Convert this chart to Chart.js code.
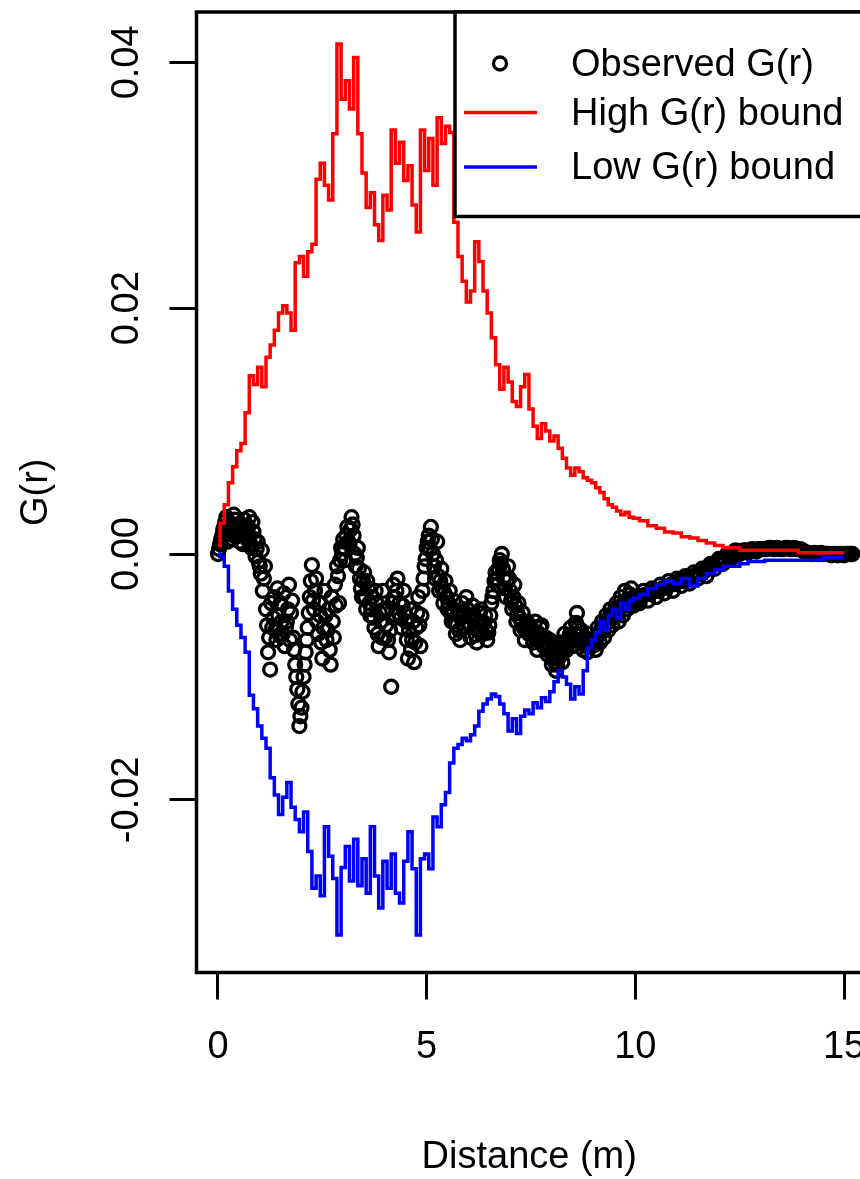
<!DOCTYPE html>
<html>
<head>
<meta charset="utf-8">
<script src="https://cdn.jsdelivr.net/npm/chart.js@4.4.1/dist/chart.umd.min.js"></script>
<style>
  html, body { margin: 0; padding: 0; background: #fff; overflow: hidden; }
  #grafico { display: block; }
</style>
</head>
<body>
<canvas id="grafico" width="900" height="1179"></canvas>
<script>
// Distancias (m) de las bandas
const distBandas = [
  0, 0.1, 0.2, 0.3, 0.4, 0.5, 0.6, 0.7, 0.8, 0.9,
  1, 1.1, 1.2, 1.3, 1.4, 1.5, 1.6, 1.7, 1.8, 1.9,
  2, 2.1, 2.2, 2.3, 2.4, 2.5, 2.6, 2.7, 2.8, 2.9,
  3, 3.1, 3.2, 3.3, 3.4, 3.5, 3.6, 3.7, 3.8, 3.9,
  4, 4.1, 4.2, 4.3, 4.4, 4.5, 4.6, 4.7, 4.8, 4.9,
  5, 5.1, 5.2, 5.3, 5.4, 5.5, 5.6, 5.7, 5.8, 5.9,
  6, 6.1, 6.2, 6.3, 6.4, 6.5, 6.6, 6.7, 6.8, 6.9,
  7, 7.1, 7.2, 7.3, 7.4, 7.5, 7.6, 7.7, 7.8, 7.9,
  8, 8.1, 8.2, 8.3, 8.4, 8.5, 8.6, 8.7, 8.8, 8.9,
  9, 9.1, 9.2, 9.3, 9.4, 9.5, 9.6, 9.7, 9.8, 9.9,
  10, 10.2, 10.4, 10.6, 10.8, 11, 11.2, 11.4, 11.6, 11.8,
  12, 12.2, 12.4, 12.6, 12.8, 13, 13.2, 13.4, 13.6, 13.8,
  14, 14.2, 14.4, 14.6, 14.8, 15
];

// Banda alta (roja)
const altaG = [
  0.0007, 0.0025, 0.0040, 0.0058, 0.0071, 0.0084, 0.0090, 0.0115, 0.0145, 0.0138,
  0.0152, 0.0136, 0.0160, 0.0170, 0.0182, 0.0196, 0.0202, 0.0196, 0.0182, 0.0237,
  0.0242, 0.0226, 0.0246, 0.0252, 0.0305, 0.0318, 0.0300, 0.0288, 0.0342, 0.0415,
  0.0370, 0.0385, 0.0362, 0.0404, 0.0342, 0.0310, 0.0282, 0.0294, 0.0268, 0.0255,
  0.0292, 0.0280, 0.0345, 0.0318, 0.0335, 0.0304, 0.0316, 0.0284, 0.0262, 0.0345,
  0.0312, 0.0338, 0.0300, 0.0355, 0.0334, 0.0348, 0.0343, 0.0270, 0.0242, 0.0222,
  0.0205, 0.0214, 0.0254, 0.0238, 0.0214, 0.0196, 0.0176, 0.0154, 0.0134, 0.0152,
  0.0140, 0.0124, 0.0120, 0.0136, 0.0146, 0.0118, 0.0104, 0.0094, 0.0106, 0.0100,
  0.0092, 0.0096, 0.0086, 0.0078, 0.0070, 0.0064, 0.0070, 0.0067, 0.0062, 0.0060,
  0.0058, 0.0054, 0.0050, 0.0045, 0.0040, 0.0038, 0.0035, 0.0032, 0.0034, 0.0030,
  0.0029, 0.0027, 0.0023, 0.0021, 0.0018, 0.0017, 0.0014, 0.0013, 0.0011, 0.0009,
  0.0007, 0.0005, 0.0005, 0.0003, 0.0003, 0.0003, 0.0003, 0.0003, 0.0003, 0.0003,
  0.0001, 0.0001, 0.0001, 0.0001, 0.0001, 0.0001
];

// Banda baja (azul)
const bajaG = [
  0.0000, -0.0002, -0.0010, -0.0030, -0.0045, -0.0058, -0.0068, -0.0080, -0.0115, -0.0126,
  -0.0140, -0.0150, -0.0158, -0.0182, -0.0196, -0.0212, -0.0198, -0.0186, -0.0206, -0.0216,
  -0.0226, -0.0210, -0.0242, -0.0272, -0.0262, -0.0278, -0.0222, -0.0246, -0.0264, -0.0310,
  -0.0255, -0.0238, -0.0266, -0.0232, -0.0270, -0.0248, -0.0276, -0.0222, -0.0262, -0.0288,
  -0.0250, -0.0272, -0.0244, -0.0276, -0.0284, -0.0250, -0.0226, -0.0256, -0.0310, -0.0248,
  -0.0244, -0.0256, -0.0214, -0.0222, -0.0204, -0.0194, -0.0170, -0.0158, -0.0155, -0.0150,
  -0.0152, -0.0147, -0.0140, -0.0128, -0.0122, -0.0118, -0.0114, -0.0116, -0.0122, -0.0130,
  -0.0144, -0.0134, -0.0146, -0.0132, -0.0127, -0.0130, -0.0121, -0.0125, -0.0117, -0.0120,
  -0.0112, -0.0104, -0.0095, -0.0100, -0.0106, -0.0118, -0.0108, -0.0114, -0.0095, -0.0076,
  -0.0070, -0.0064, -0.0055, -0.0062, -0.0050, -0.0045, -0.0052, -0.0040, -0.0045, -0.0038,
  -0.0036, -0.0033, -0.0028, -0.0025, -0.0022, -0.0024, -0.0020, -0.0026, -0.0020, -0.0016,
  -0.0013, -0.0010, -0.0010, -0.0008, -0.0006, -0.0006, -0.0005, -0.0005, -0.0005, -0.0005,
  -0.0005, -0.0005, -0.0005, -0.0003, -0.0003, -0.0003
];

// Distancias (m) de los puntos observados
const distObs = [
  0, 0.05, 0.1, 0.15, 0.2, 0.25, 0.3, 0.35, 0.4, 0.45,
  0.5, 0.55, 0.6, 0.65, 0.7, 0.75, 0.8, 0.85, 0.9, 0.95,
  1, 1.05, 1.1, 1.15, 1.2, 1.25, 1.3, 1.35, 1.4, 1.45,
  1.5, 1.55, 1.6, 1.65, 1.7, 1.75, 1.8, 1.85, 1.9, 1.95,
  2, 2.05, 2.1, 2.15, 2.2, 2.25, 2.3, 2.35, 2.4, 2.45,
  2.5, 2.55, 2.6, 2.65, 2.7, 2.75, 2.8, 2.85, 2.9, 2.95,
  3, 3.05, 3.1, 3.15, 3.2, 3.25, 3.3, 3.35, 3.4, 3.45,
  3.5, 3.55, 3.6, 3.65, 3.7, 3.75, 3.8, 3.85, 3.9, 3.95,
  4, 4.05, 4.1, 4.15, 4.2, 4.25, 4.3, 4.35, 4.4, 4.45,
  4.5, 4.55, 4.6, 4.65, 4.7, 4.75, 4.8, 4.85, 4.9, 4.95,
  5, 5.05, 5.1, 5.15, 5.2, 5.25, 5.3, 5.35, 5.4, 5.45,
  5.5, 5.55, 5.6, 5.65, 5.7, 5.75, 5.8, 5.85, 5.9, 5.95,
  6, 6.05, 6.1, 6.15, 6.2, 6.25, 6.3, 6.35, 6.4, 6.45,
  6.5, 6.55, 6.6, 6.65, 6.7, 6.75, 6.8, 6.85, 6.9, 6.95,
  7, 7.05, 7.1, 7.15, 7.2, 7.25, 7.3, 7.35, 7.4, 7.45,
  7.5, 7.55, 7.6, 7.65, 7.7, 7.75, 7.8, 7.85, 7.9, 7.95,
  8, 8.05, 8.1, 8.15, 8.2, 8.25, 8.3, 8.35, 8.4, 8.45,
  8.5, 8.55, 8.6, 8.65, 8.7, 8.75, 8.8, 8.85, 8.9, 8.95,
  9, 9.05, 9.1, 9.15, 9.2, 9.25, 9.3, 9.35, 9.4, 9.45,
  9.5, 9.55, 9.6, 9.65, 9.7, 9.75, 9.8, 9.85, 9.9, 9.95,
  10,
  10.1, 10.2, 10.3, 10.4, 10.5, 10.6, 10.7, 10.8, 10.9, 11,
  11.1, 11.2, 11.3, 11.4, 11.5, 11.6, 11.7, 11.8, 11.9, 12,
  12.1, 12.2, 12.3, 12.4, 12.5, 12.6, 12.7, 12.8, 12.9, 13,
  13.1, 13.2, 13.3, 13.4, 13.5, 13.6, 13.7, 13.8, 13.9, 14,
  14.1, 14.2, 14.3, 14.4, 14.5, 14.6, 14.7, 14.8, 14.9, 15,
  15.1, 15.2
];

// G(r) observado
const obsG = [
  0.0000, 0.0008, 0.0015, 0.0022, 0.0030, 0.0018, 0.0025, 0.0012, 0.0028, 0.0020,
  0.0015, 0.0024, 0.0008, 0.0020, 0.0012, 0.0030, 0.0005, 0.0018, -0.0002, 0.0010,
  -0.0010, 0.0003, -0.0020, -0.0045, -0.0080, -0.0094, -0.0060, -0.0035, -0.0070, -0.0050,
  -0.0040, -0.0065, -0.0075, -0.0055, -0.0025, -0.0048, -0.0068, -0.0090, -0.0110, -0.0140,
  -0.0125, -0.0100, -0.0080, -0.0060, -0.0035, -0.0009, -0.0045, -0.0020, -0.0065, -0.0050,
  -0.0085, -0.0030, -0.0070, -0.0045, -0.0090, -0.0055, -0.0025, -0.0010, -0.0040, 0.0005,
  0.0012, -0.0005, 0.0022, 0.0008, 0.0030, 0.0015, -0.0010, 0.0005, -0.0020, -0.0035,
  -0.0015, -0.0045, -0.0028, -0.0050, -0.0035, -0.0060, -0.0040, -0.0075, -0.0055, -0.0030,
  -0.0068, -0.0045, -0.0080, -0.0108, -0.0025, -0.0050, -0.0020, -0.0040, -0.0060, -0.0030,
  -0.0055, -0.0085, -0.0045, -0.0070, -0.0088, -0.0060, -0.0035, -0.0075, -0.0030, -0.0010,
  0.0005, 0.0015, 0.0022, 0.0000, -0.0020, 0.0010, -0.0030, -0.0012, -0.0040, -0.0022,
  -0.0045, -0.0030, -0.0055, -0.0038, -0.0065, -0.0048, -0.0070, -0.0040, -0.0060, -0.0035,
  -0.0050, -0.0068, -0.0042, -0.0060, -0.0072, -0.0055, -0.0045, -0.0065, -0.0050, -0.0070,
  -0.0058, -0.0040, -0.0030, -0.0015, -0.0025, -0.0005, 0.0000, -0.0020, -0.0035, -0.0010,
  -0.0030, -0.0045, -0.0025, -0.0055, -0.0040, -0.0062, -0.0048, -0.0070, -0.0055, -0.0065,
  -0.0060, -0.0072, -0.0055, -0.0078, -0.0065, -0.0058, -0.0075, -0.0068, -0.0082, -0.0070,
  -0.0090, -0.0078, -0.0095, -0.0085, -0.0072, -0.0088, -0.0065, -0.0078, -0.0070, -0.0060,
  -0.0075, -0.0065, -0.0048, -0.0070, -0.0062, -0.0078, -0.0068, -0.0080, -0.0065, -0.0075,
  -0.0070, -0.0078, -0.0060, -0.0072, -0.0055, -0.0068, -0.0050, -0.0062, -0.0045, -0.0058,
  -0.0048, -0.0040, -0.0055, -0.0035, -0.0050, -0.0030, -0.0045, -0.0038, -0.0028, -0.0042,
  -0.0035,
  -0.0040, -0.0030, -0.0038, -0.0028, -0.0035, -0.0025, -0.0032, -0.0022, -0.0030, -0.0020,
  -0.0026, -0.0018, -0.0024, -0.0015, -0.0020, -0.0012, -0.0018, -0.0008, -0.0012, -0.0004,
  -0.0008, 0.0000, -0.0004, 0.0003, 0.0000, 0.0003, 0.0001, 0.0004, 0.0002, 0.0004,
  0.0004, 0.0005, 0.0004, 0.0005, 0.0004, 0.0005, 0.0004, 0.0005, 0.0004, 0.0003,
  0.0001, 0.0000, 0.0001, 0.0000, 0.0000, 0.0000, -0.0001, 0.0000, 0.0000, -0.0001,
  0.0000, 0.0000
];

// Puntos observados intermedios (la nube es muy densa)
const distObsMedio = [
  0.025, 0.075, 0.125, 0.175, 0.225, 0.275, 0.325, 0.375, 0.425, 0.475,
  0.525, 0.575, 0.625, 0.675, 0.725, 0.775, 0.825, 0.875, 0.925, 0.975,
  1.025, 1.075, 1.125, 1.175, 1.225, 1.275, 1.325, 1.375, 1.425, 1.475,
  1.525, 1.575, 1.625, 1.675, 1.725, 1.775, 1.825, 1.875, 1.925, 1.975,
  2.025, 2.075, 2.125, 2.175, 2.225, 2.275, 2.325, 2.375, 2.425, 2.475,
  2.525, 2.575, 2.625, 2.675, 2.725, 2.775, 2.825, 2.875, 2.925, 2.975,
  3.025, 3.075, 3.125, 3.175, 3.225, 3.275, 3.325, 3.375, 3.425, 3.475,
  3.525, 3.575, 3.625, 3.675, 3.725, 3.775, 3.825, 3.875, 3.925, 3.975,
  4.025, 4.075, 4.125, 4.175, 4.225, 4.275, 4.325, 4.375, 4.425, 4.475,
  4.525, 4.575, 4.625, 4.675, 4.725, 4.775, 4.825, 4.875, 4.925, 4.975,
  5.025, 5.075, 5.125, 5.175, 5.225, 5.275, 5.325, 5.375, 5.425, 5.475,
  5.525, 5.575, 5.625, 5.675, 5.725, 5.775, 5.825, 5.875, 5.925, 5.975,
  6.025, 6.075, 6.125, 6.175, 6.225, 6.275, 6.325, 6.375, 6.425, 6.475,
  6.525, 6.575, 6.625, 6.675, 6.725, 6.775, 6.825, 6.875, 6.925, 6.975,
  7.025, 7.075, 7.125, 7.175, 7.225, 7.275, 7.325, 7.375, 7.425, 7.475,
  7.525, 7.575, 7.625, 7.675, 7.725, 7.775, 7.825, 7.875, 7.925, 7.975,
  8.025, 8.075, 8.125, 8.175, 8.225, 8.275, 8.325, 8.375, 8.425, 8.475,
  8.525, 8.575, 8.625, 8.675, 8.725, 8.775, 8.825, 8.875, 8.925, 8.975,
  9.025, 9.075, 9.125, 9.175, 9.225, 9.275, 9.325, 9.375, 9.425, 9.475,
  9.525, 9.575, 9.625, 9.675, 9.725, 9.775, 9.825, 9.875, 9.925, 9.975,
  10.05, 10.15, 10.25, 10.35, 10.45, 10.55, 10.65, 10.75, 10.85, 10.95,
  11.05, 11.15, 11.25, 11.35, 11.45, 11.55, 11.65, 11.75, 11.85, 11.95,
  12.05, 12.15, 12.25, 12.35, 12.45, 12.55, 12.65, 12.75, 12.85, 12.95,
  13.05, 13.15, 13.25, 13.35, 13.45, 13.55, 13.65, 13.75, 13.85, 13.95,
  14.05, 14.15, 14.25, 14.35, 14.45, 14.55, 14.65, 14.75, 14.85, 14.95,
  15.05, 15.15
];

const obsGMedio = [
  0.0004, 0.0012, 0.0020, 0.0026, 0.0010, 0.0022, 0.0016, 0.0032, 0.0014, 0.0024,
  0.0010, 0.0018, 0.0028, 0.0014, 0.0022, 0.0008, 0.0026, 0.0012, 0.0004, -0.0006,
  -0.0016, -0.0030, -0.0010, -0.0058, -0.0068, -0.0040, -0.0052, -0.0062, -0.0028, -0.0066,
  -0.0055, -0.0032, -0.0060, -0.0045, -0.0070, -0.0038, -0.0078, -0.0100, -0.0122, -0.0132,
  -0.0112, -0.0090, -0.0070, -0.0048, -0.0022, -0.0038, -0.0030, -0.0055, -0.0040, -0.0072,
  -0.0060, -0.0050, -0.0062, -0.0078, -0.0035, -0.0068, -0.0042, -0.0018, -0.0005, 0.0000,
  0.0005, 0.0015, 0.0010, 0.0020, 0.0024, 0.0000, -0.0003, -0.0012, -0.0028, -0.0022,
  -0.0035, -0.0022, -0.0040, -0.0045, -0.0052, -0.0030, -0.0065, -0.0048, -0.0068, -0.0045,
  -0.0058, -0.0070, -0.0062, -0.0040, -0.0035, -0.0030, -0.0048, -0.0052, -0.0042, -0.0048,
  -0.0070, -0.0062, -0.0078, -0.0055, -0.0072, -0.0048, -0.0058, -0.0050, -0.0020, -0.0004,
  0.0010, 0.0004, 0.0012, -0.0010, -0.0005, -0.0018, -0.0022, -0.0028, -0.0032, -0.0035,
  -0.0040, -0.0048, -0.0045, -0.0055, -0.0058, -0.0062, -0.0052, -0.0050, -0.0048, -0.0045,
  -0.0058, -0.0052, -0.0050, -0.0066, -0.0062, -0.0048, -0.0058, -0.0056, -0.0062, -0.0064,
  -0.0050, -0.0035, -0.0022, -0.0020, -0.0012, -0.0008, -0.0012, -0.0028, -0.0022, -0.0020,
  -0.0038, -0.0035, -0.0042, -0.0048, -0.0052, -0.0055, -0.0060, -0.0062, -0.0060, -0.0058,
  -0.0066, -0.0064, -0.0068, -0.0070, -0.0060, -0.0068, -0.0072, -0.0078, -0.0075, -0.0080,
  -0.0085, -0.0088, -0.0090, -0.0080, -0.0082, -0.0075, -0.0072, -0.0074, -0.0066, -0.0068,
  -0.0070, -0.0056, -0.0060, -0.0066, -0.0072, -0.0072, -0.0075, -0.0072, -0.0070, -0.0072,
  -0.0074, -0.0068, -0.0066, -0.0062, -0.0062, -0.0058, -0.0056, -0.0052, -0.0052, -0.0052,
  -0.0044, -0.0048, -0.0045, -0.0042, -0.0040, -0.0038, -0.0040, -0.0033, -0.0036, -0.0038,
  -0.0038, -0.0034, -0.0033, -0.0032, -0.0030, -0.0030, -0.0028, -0.0027, -0.0025, -0.0024,
  -0.0022, -0.0022, -0.0020, -0.0019, -0.0017, -0.0016, -0.0014, -0.0012, -0.0009, -0.0007,
  -0.0005, -0.0004, -0.0002, 0.0001, 0.0002, 0.0002, 0.0003, 0.0003, 0.0003, 0.0004,
  0.0004, 0.0004, 0.0005, 0.0004, 0.0004, 0.0004, 0.0005, 0.0004, 0.0004, 0.0004,
  0.0002, 0.0001, 0.0000, 0.0000, 0.0001, 0.0000, 0.0000, 0.0000, -0.0001, 0.0000,
  0.0000, 0.0000
];

// Ejes y leyenda
const ticksX = [0, 5, 10, 15];
const etiquetasX = ['0', '5', '10', '15'];
const ticksY = [-0.02, 0, 0.02, 0.04];
const etiquetasY = ['-0.02', '0.00', '0.02', '0.04'];
const nombres = ['Observed G(r)', 'High G(r) bound', 'Low G(r) bound'];

const fuente = '"Liberation Sans", Arial, sans-serif';

function aPuntos(xs, ys) {
  return xs.map((x, i) => ({ x: x, y: ys[i] }));
}

// Marco del gráfico y leyenda dentro del área (fondo blanco)
const marcoYLeyenda = {
  id: 'marcoYLeyenda',
  afterDatasetsDraw(chart) {
    const ctx = chart.ctx;
    const a = chart.chartArea;
    ctx.save();
    ctx.strokeStyle = '#000';
    ctx.lineWidth = 3.5;
    ctx.strokeRect(a.left, a.top, a.right - a.left, a.bottom - a.top);

    const x0 = 455, y1 = 216.5;
    ctx.fillStyle = '#fff';
    ctx.fillRect(x0, a.top, chart.width - x0 + 10, y1 - a.top);
    ctx.strokeRect(x0, a.top, chart.width - x0 + 10, y1 - a.top);

    const filas = [63.5, 112.5, 167];
    const ds = chart.data.datasets;
    ctx.font = '38px ' + fuente;
    ctx.textBaseline = 'middle';
    ctx.textAlign = 'left';
    filas.forEach((y, i) => {
      if (i === 0) {
        ctx.beginPath();
        ctx.arc(500, y, ds[0].pointRadius, 0, Math.PI * 2);
        ctx.lineWidth = ds[0].pointBorderWidth;
        ctx.strokeStyle = ds[0].pointBorderColor;
        ctx.stroke();
      } else {
        ctx.beginPath();
        ctx.moveTo(464, y);
        ctx.lineTo(537, y);
        ctx.lineWidth = 3.5;
        ctx.strokeStyle = ds[i].borderColor;
        ctx.stroke();
      }
      ctx.fillStyle = '#000';
      ctx.fillText(ds[i].label, 571, y + 2);
    });
    ctx.restore();
  }
};

const ctx = document.getElementById('grafico').getContext('2d');

new Chart(ctx, {
  type: 'scatter',
  data: {
    datasets: [
      {
        type: 'scatter',
        label: nombres[0],
        data: aPuntos(distObs, obsG).concat(aPuntos(distObsMedio, obsGMedio)),
        pointStyle: 'circle',
        pointRadius: 6.5,
        pointBorderWidth: 3.3,
        pointBorderColor: '#000',
        pointBackgroundColor: 'rgba(0,0,0,0)',
        order: 3
      },
      {
        type: 'line',
        label: nombres[1],
        data: aPuntos(distBandas, altaG),
        borderColor: '#ff0000',
        borderWidth: 3.5,
        pointRadius: 0,
        stepped: 'middle',
        fill: false,
        order: 1
      },
      {
        type: 'line',
        label: nombres[2],
        data: aPuntos(distBandas, bajaG),
        borderColor: '#0000ff',
        borderWidth: 3.5,
        pointRadius: 0,
        stepped: 'middle',
        fill: false,
        order: 2
      }
    ]
  },
  options: {
    responsive: false,
    animation: false,
    devicePixelRatio: 1,
    events: [],
    layout: { padding: { left: 0, top: 12, right: 38, bottom: 0 } },
    plugins: {
      legend: { display: false },
      tooltip: { enabled: false }
    },
    scales: {
      x: {
        type: 'linear',
        min: -0.515,
        max: 15.43,
        afterBuildTicks: s => { s.ticks = ticksX.map(v => ({ value: v })); },
        afterFit: s => { s.height = 206.5; s.paddingLeft = 0; s.paddingRight = 0; },
        border: { display: false },
        grid: { drawOnChartArea: false, drawTicks: true, tickLength: 27, tickWidth: 3, tickColor: '#000' },
        ticks: {
          autoSkip: false,
          maxRotation: 0,
          padding: 25,
          color: '#000',
          font: { family: fuente, size: 38 },
          callback: (v, i) => etiquetasX[i]
        },
        title: {
          display: true,
          text: 'Distance (m)',
          color: '#000',
          font: { family: fuente, size: 38, lineHeight: 1 },
          padding: { top: 0, bottom: 2.5 }
        }
      },
      y: {
        type: 'linear',
        min: -0.03405,
        max: 0.0441,
        afterBuildTicks: s => { s.ticks = ticksY.map(v => ({ value: v })); },
        afterFit: s => { s.width = 196.5; s.paddingTop = 0; s.paddingBottom = 0; },
        border: { display: false },
        grid: { drawOnChartArea: false, drawTicks: true, tickLength: 27, tickWidth: 3, tickColor: '#000' },
        ticks: {
          autoSkip: false,
          minRotation: 90,
          maxRotation: 90,
          crossAlign: 'center',
          padding: -1,
          color: '#000',
          font: { family: fuente, size: 38 },
          callback: (v, i) => etiquetasY[i]
        },
        title: {
          display: true,
          text: 'G(r)',
          color: '#000',
          font: { family: fuente, size: 38, lineHeight: 1 },
          padding: { top: 18, bottom: 0 }
        }
      }
    }
  },
  plugins: [marcoYLeyenda]
});
</script>
</body>
</html>
